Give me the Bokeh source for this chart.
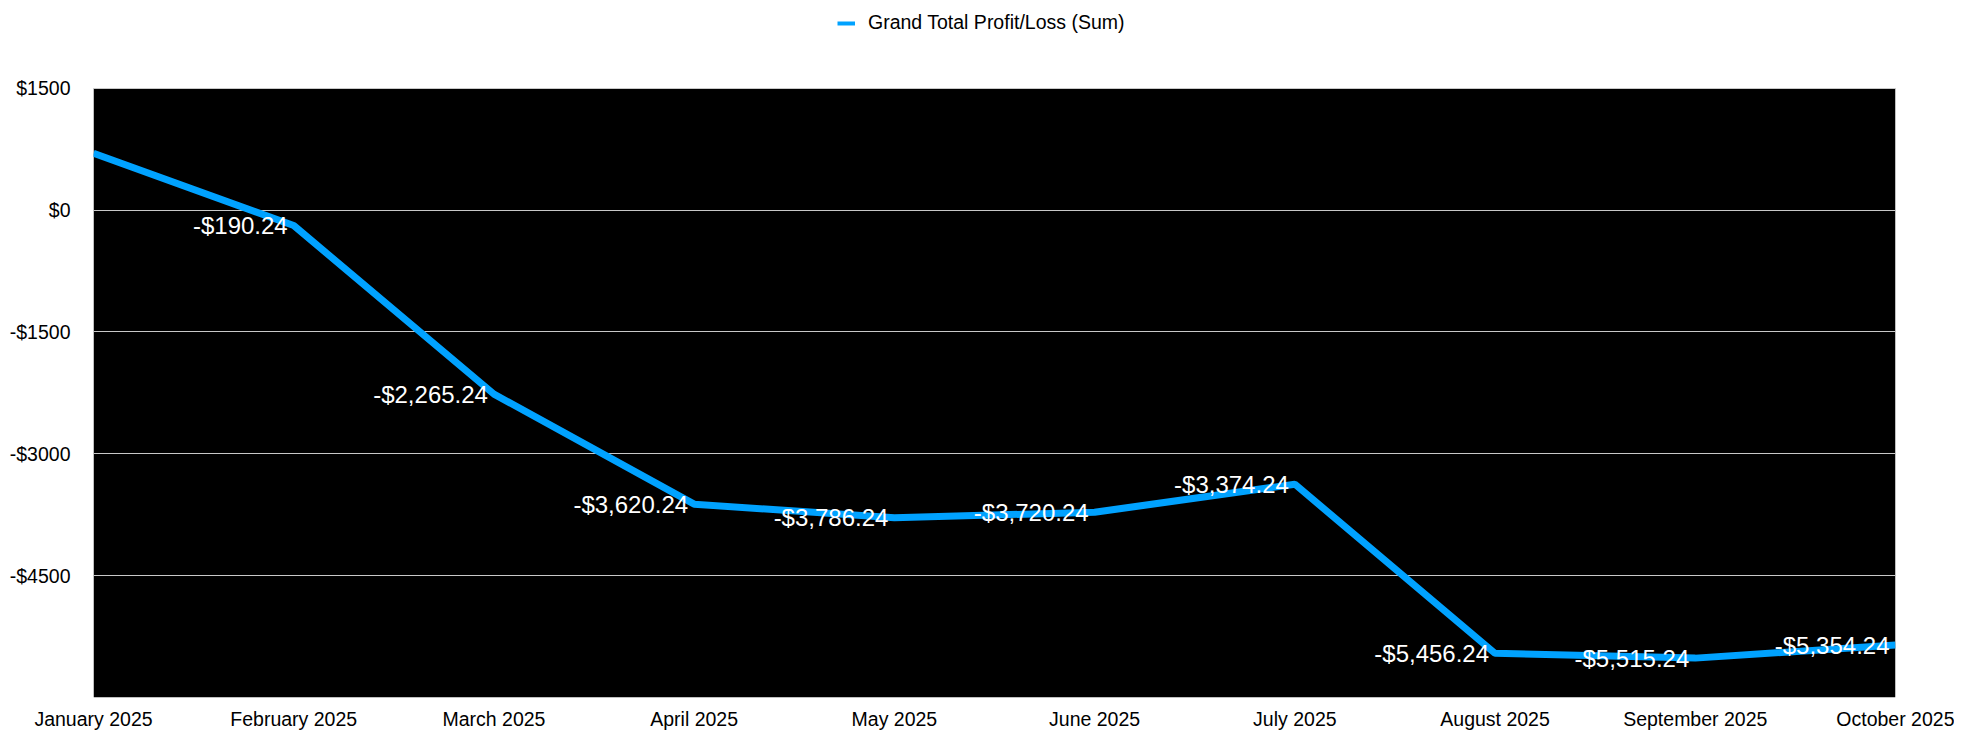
from bokeh.plotting import figure
from bokeh.models import ColumnDataSource, Range1d, FixedTicker, Legend, LegendItem, BoxAnnotation
from bokeh.core.properties import value
from bokeh.embed import file_html
from bokeh.resources import INLINE

# ---- data ----
months = ["January 2025", "February 2025", "March 2025", "April 2025", "May 2025",
          "June 2025", "July 2025", "August 2025", "September 2025", "October 2025"]
profit = [700.0, -190.24, -2265.24, -3620.24, -3786.24,
          -3720.24, -3374.24, -5456.24, -5515.24, -5354.24]
show_label = [False, True, True, True, True, True, True, True, True, True]
y_ticks = [-4500, -3000, -1500, 0, 1500]
y_min, y_max = -6000, 1500
series_name = "Grand Total Profit/Loss (Sum)"

BLUE = "#00a2ff"
FONT = "Liberation Sans"

# layout (pixels)
W, H = 1954, 732
LEFT, RIGHT, BOTTOM = 93, 59, 33
PLOT_H = 611                       # height of the black chart area
TOP_GAP = H - BOTTOM - PLOT_H      # white band above the chart area (legend lives here)


def money_tick(v):
    return ("-$" if v < 0 else "$") + str(abs(int(v)))


def money_label(v):
    s = "${:,.2f}".format(abs(v))
    return ("-" + s) if v < 0 else s


xs = list(range(len(months)))
labels = [money_label(v) if s else "" for v, s in zip(profit, show_label)]
src = ColumnDataSource(dict(x=xs, y=profit, label=labels))

units_per_px = (y_max - y_min) / PLOT_H
y_top = y_max + TOP_GAP * units_per_px

p = figure(width=W, height=H, output_backend="svg", toolbar_location=None,
           x_range=Range1d(0, len(months) - 1), y_range=Range1d(y_min, y_top),
           min_border_left=LEFT, min_border_right=RIGHT, min_border_top=0,
           min_border_bottom=BOTTOM)

p.background_fill_color = "white"
p.border_fill_color = "white"
p.outline_line_color = None

# black chart area (below the top tick), drawn beneath the grid
p.add_layout(BoxAnnotation(top=y_max, fill_color="black", fill_alpha=1,
                           line_color=None, level="image"))

# axes
p.xaxis.ticker = FixedTicker(ticks=xs)
p.xaxis.major_label_overrides = {i: m for i, m in zip(xs, months)}
p.yaxis.ticker = FixedTicker(ticks=y_ticks)
p.yaxis.major_label_overrides = {t: money_tick(t) for t in y_ticks}
for ax in (p.xaxis[0], p.yaxis[0]):
    ax.axis_line_color = None
    ax.major_tick_line_color = None
    ax.minor_tick_line_color = None
    ax.major_tick_out = 0
    ax.major_tick_in = 0
    ax.minor_tick_out = 0
    ax.major_label_text_font = FONT
    ax.major_label_text_font_size = "19.5px"
    ax.major_label_text_color = "black"
p.xaxis.major_label_standoff = 10
p.yaxis.major_label_standoff = 23

p.xgrid.grid_line_color = None
p.ygrid.grid_line_color = "#c8c8c8"
p.ygrid.grid_line_width = 1

# series
p.line("x", "y", source=src, line_color=BLUE, line_width=7)
p.text("x", "y", text="label", source=src, text_color="white",
       text_font=value(FONT), text_font_size="24px",
       text_align="right", text_baseline="middle", x_offset=-6)

# legend (separate thinner glyph, like the reference; one-point line draws nothing)
dummy = p.line(x=[xs[0]], y=[profit[0]], line_color=BLUE, line_width=4)
legend = Legend(items=[LegendItem(label=series_name, renderers=[dummy])],
                location=(744, PLOT_H + TOP_GAP - 25 - 11), orientation="horizontal",
                glyph_width=18, glyph_height=22, label_standoff=13,
                padding=0, margin=0, spacing=0,
                border_line_color=None, background_fill_alpha=0,
                label_text_font=FONT, label_text_font_size="19.5px",
                label_text_color="black")
p.add_layout(legend, "center")

open("out.html", "w").write(file_html(p, INLINE))
